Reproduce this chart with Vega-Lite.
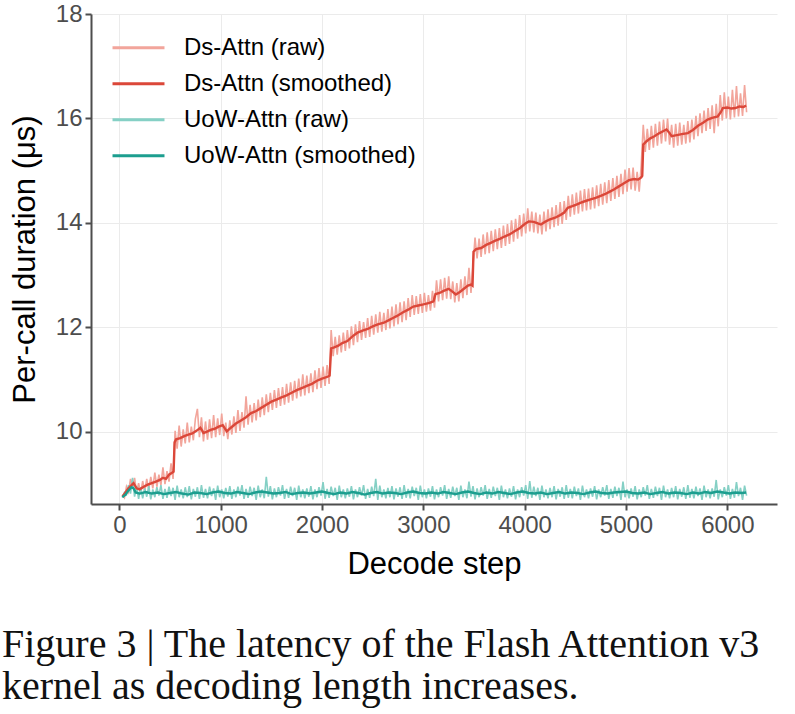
{
  "$schema": "https://vega.github.io/schema/vega-lite/v6.json",
  "width": 686,
  "height": 490,
  "autosize": {"type": "none"},
  "padding": {"left": 91, "top": 14, "right": 18, "bottom": 210},
  "background": "white",
  "title": {
    "text": ["Figure 3 | The latency of the Flash Attention v3", "kernel as decoding length increases."],
    "orient": "bottom",
    "anchor": "start",
    "frame": "group",
    "dx": -89,
    "offset": 46,
    "font": "Liberation Serif",
    "fontSize": 40,
    "fontWeight": "normal",
    "color": "#111111",
    "lineHeight": 42
  },
  "datasets": {
    "ds_raw": [
      {"x":30,"y":8.80},{"x":50,"y":8.74},{"x":70,"y":8.95},{"x":90,"y":8.85},{"x":110,"y":9.10},{"x":130,"y":8.92},{"x":150,"y":9.12},{"x":170,"y":8.84},{"x":190,"y":9.02},{"x":210,"y":8.82},
      {"x":230,"y":9.06},{"x":250,"y":8.86},{"x":270,"y":9.10},{"x":290,"y":8.90},{"x":310,"y":9.14},{"x":330,"y":8.92},{"x":350,"y":9.22},{"x":370,"y":8.95},{"x":390,"y":9.18},{"x":410,"y":8.98},
      {"x":430,"y":9.32},{"x":450,"y":9.00},{"x":470,"y":9.25},{"x":490,"y":9.05},{"x":510,"y":9.40},{"x":530,"y":9.10},{"x":550,"y":10.02},{"x":570,"y":9.68},{"x":590,"y":10.12},{"x":610,"y":9.72},
      {"x":630,"y":10.05},{"x":650,"y":9.78},{"x":670,"y":10.18},{"x":690,"y":9.80},{"x":710,"y":10.10},{"x":730,"y":9.84},{"x":750,"y":10.25},{"x":770,"y":10.44},{"x":790,"y":9.90},{"x":810,"y":10.28},
      {"x":830,"y":9.82},{"x":850,"y":10.20},{"x":870,"y":9.85},{"x":890,"y":10.24},{"x":910,"y":9.88},{"x":930,"y":10.32},{"x":950,"y":9.90},{"x":970,"y":10.26},{"x":990,"y":9.94},{"x":1010,"y":10.35},
      {"x":1030,"y":9.92},{"x":1050,"y":10.18},{"x":1070,"y":9.86},{"x":1090,"y":10.22},{"x":1110,"y":9.95},{"x":1130,"y":10.30},{"x":1150,"y":9.98},{"x":1170,"y":10.42},{"x":1190,"y":10.02},{"x":1210,"y":10.38},
      {"x":1230,"y":10.08},{"x":1250,"y":10.68},{"x":1270,"y":10.14},{"x":1290,"y":10.52},{"x":1310,"y":10.18},{"x":1330,"y":10.55},{"x":1350,"y":10.22},{"x":1370,"y":10.62},{"x":1390,"y":10.28},{"x":1410,"y":10.66},
      {"x":1430,"y":10.32},{"x":1450,"y":10.72},{"x":1470,"y":10.38},{"x":1490,"y":10.75},{"x":1510,"y":10.42},{"x":1530,"y":10.80},{"x":1550,"y":10.46},{"x":1570,"y":10.84},{"x":1590,"y":10.50},{"x":1610,"y":10.86},
      {"x":1630,"y":10.52},{"x":1650,"y":10.92},{"x":1670,"y":10.56},{"x":1690,"y":10.95},{"x":1710,"y":10.60},{"x":1730,"y":10.98},{"x":1750,"y":10.64},{"x":1770,"y":11.02},{"x":1790,"y":10.68},{"x":1810,"y":11.10},
      {"x":1830,"y":10.70},{"x":1850,"y":11.08},{"x":1870,"y":10.74},{"x":1890,"y":11.12},{"x":1910,"y":10.76},{"x":1930,"y":11.18},{"x":1950,"y":10.82},{"x":1970,"y":11.22},{"x":1990,"y":10.84},{"x":2010,"y":11.25},
      {"x":2030,"y":10.88},{"x":2050,"y":11.28},{"x":2070,"y":10.92},{"x":2090,"y":11.95},{"x":2110,"y":11.45},{"x":2130,"y":11.82},{"x":2150,"y":11.48},{"x":2170,"y":11.85},{"x":2190,"y":11.52},{"x":2210,"y":11.90},
      {"x":2230,"y":11.55},{"x":2250,"y":11.95},{"x":2270,"y":11.60},{"x":2290,"y":12.02},{"x":2310,"y":11.66},{"x":2330,"y":12.06},{"x":2350,"y":11.72},{"x":2370,"y":12.12},{"x":2390,"y":11.76},{"x":2410,"y":12.10},
      {"x":2430,"y":11.80},{"x":2450,"y":12.18},{"x":2470,"y":11.82},{"x":2490,"y":12.22},{"x":2510,"y":11.86},{"x":2530,"y":12.25},{"x":2550,"y":11.90},{"x":2570,"y":12.30},{"x":2590,"y":11.92},{"x":2610,"y":12.28},
      {"x":2630,"y":11.95},{"x":2650,"y":12.35},{"x":2670,"y":11.98},{"x":2690,"y":12.40},{"x":2710,"y":12.02},{"x":2730,"y":12.44},{"x":2750,"y":12.06},{"x":2770,"y":12.48},{"x":2790,"y":12.10},{"x":2810,"y":12.50},
      {"x":2830,"y":12.14},{"x":2850,"y":12.56},{"x":2870,"y":12.20},{"x":2890,"y":12.62},{"x":2910,"y":12.24},{"x":2930,"y":12.60},{"x":2950,"y":12.26},{"x":2970,"y":12.64},{"x":2990,"y":12.28},{"x":3010,"y":12.66},
      {"x":3030,"y":12.30},{"x":3050,"y":12.62},{"x":3070,"y":12.32},{"x":3090,"y":12.70},{"x":3110,"y":12.38},{"x":3130,"y":12.90},{"x":3150,"y":12.50},{"x":3170,"y":12.92},{"x":3190,"y":12.52},{"x":3210,"y":12.95},
      {"x":3230,"y":12.55},{"x":3250,"y":12.98},{"x":3270,"y":12.54},{"x":3290,"y":12.88},{"x":3310,"y":12.48},{"x":3330,"y":12.85},{"x":3350,"y":12.50},{"x":3370,"y":12.92},{"x":3390,"y":12.56},{"x":3410,"y":12.98},
      {"x":3430,"y":12.62},{"x":3450,"y":13.14},{"x":3470,"y":12.66},{"x":3490,"y":13.20},{"x":3510,"y":13.72},{"x":3530,"y":13.32},{"x":3550,"y":13.70},{"x":3570,"y":13.35},{"x":3590,"y":13.78},{"x":3610,"y":13.40},
      {"x":3630,"y":13.82},{"x":3650,"y":13.42},{"x":3670,"y":13.85},{"x":3690,"y":13.46},{"x":3710,"y":13.88},{"x":3730,"y":13.50},{"x":3750,"y":13.90},{"x":3770,"y":13.52},{"x":3790,"y":13.95},{"x":3810,"y":13.56},
      {"x":3830,"y":13.98},{"x":3850,"y":13.60},{"x":3870,"y":14.05},{"x":3890,"y":13.64},{"x":3910,"y":14.08},{"x":3930,"y":13.70},{"x":3950,"y":14.15},{"x":3970,"y":13.74},{"x":3990,"y":14.18},{"x":4010,"y":13.80},
      {"x":4030,"y":14.28},{"x":4050,"y":13.84},{"x":4070,"y":14.22},{"x":4090,"y":13.82},{"x":4110,"y":14.20},{"x":4130,"y":13.80},{"x":4150,"y":14.16},{"x":4170,"y":13.78},{"x":4190,"y":14.22},{"x":4210,"y":13.84},
      {"x":4230,"y":14.26},{"x":4250,"y":13.88},{"x":4270,"y":14.30},{"x":4290,"y":13.92},{"x":4310,"y":14.34},{"x":4330,"y":13.95},{"x":4350,"y":14.40},{"x":4370,"y":13.98},{"x":4390,"y":14.42},{"x":4410,"y":14.06},
      {"x":4430,"y":14.52},{"x":4450,"y":14.12},{"x":4470,"y":14.55},{"x":4490,"y":14.16},{"x":4510,"y":14.58},{"x":4530,"y":14.18},{"x":4550,"y":14.62},{"x":4570,"y":14.22},{"x":4590,"y":14.65},{"x":4610,"y":14.24},
      {"x":4630,"y":14.66},{"x":4650,"y":14.26},{"x":4670,"y":14.68},{"x":4690,"y":14.28},{"x":4710,"y":14.72},{"x":4730,"y":14.32},{"x":4750,"y":14.75},{"x":4770,"y":14.35},{"x":4790,"y":14.78},{"x":4810,"y":14.38},
      {"x":4830,"y":14.82},{"x":4850,"y":14.42},{"x":4870,"y":14.86},{"x":4890,"y":14.46},{"x":4910,"y":14.90},{"x":4930,"y":14.50},{"x":4950,"y":14.94},{"x":4970,"y":14.55},{"x":4990,"y":15.02},{"x":5010,"y":14.60},
      {"x":5030,"y":15.05},{"x":5050,"y":14.64},{"x":5070,"y":15.06},{"x":5090,"y":14.62},{"x":5110,"y":14.98},{"x":5130,"y":14.60},{"x":5150,"y":15.10},{"x":5170,"y":15.88},{"x":5190,"y":15.36},{"x":5210,"y":15.80},
      {"x":5230,"y":15.40},{"x":5250,"y":15.86},{"x":5270,"y":15.44},{"x":5290,"y":15.90},{"x":5310,"y":15.48},{"x":5330,"y":15.94},{"x":5350,"y":15.52},{"x":5370,"y":15.98},{"x":5390,"y":15.56},{"x":5410,"y":16.00},
      {"x":5430,"y":15.50},{"x":5450,"y":15.88},{"x":5470,"y":15.44},{"x":5490,"y":15.90},{"x":5510,"y":15.48},{"x":5530,"y":15.92},{"x":5550,"y":15.50},{"x":5570,"y":15.88},{"x":5590,"y":15.52},{"x":5610,"y":15.95},
      {"x":5630,"y":15.54},{"x":5650,"y":15.98},{"x":5670,"y":15.60},{"x":5690,"y":16.05},{"x":5710,"y":15.66},{"x":5730,"y":16.10},{"x":5750,"y":15.72},{"x":5770,"y":16.15},{"x":5790,"y":15.76},{"x":5810,"y":16.20},
      {"x":5830,"y":15.80},{"x":5850,"y":16.25},{"x":5870,"y":15.72},{"x":5890,"y":16.28},{"x":5910,"y":15.85},{"x":5930,"y":16.45},{"x":5950,"y":15.96},{"x":5970,"y":16.50},{"x":5990,"y":16.00},{"x":6010,"y":16.42},
      {"x":6030,"y":15.98},{"x":6050,"y":16.55},{"x":6070,"y":16.02},{"x":6090,"y":16.62},{"x":6110,"y":16.04},{"x":6130,"y":16.48},{"x":6150,"y":16.05},{"x":6170,"y":16.64},{"x":6190,"y":16.12}
    ],
    "uow_raw": [
      {"x":30,"y":8.74},{"x":50,"y":8.84},{"x":70,"y":8.80},{"x":90,"y":8.98},{"x":110,"y":8.82},{"x":130,"y":9.12},{"x":150,"y":8.76},{"x":170,"y":8.96},{"x":190,"y":8.72},{"x":210,"y":8.94},
      {"x":230,"y":8.73},{"x":250,"y":8.92},{"x":270,"y":8.76},{"x":290,"y":8.96},{"x":310,"y":8.71},{"x":330,"y":8.90},{"x":350,"y":8.75},{"x":370,"y":8.94},{"x":390,"y":8.78},{"x":410,"y":8.98},
      {"x":430,"y":8.72},{"x":450,"y":8.91},{"x":470,"y":8.74},{"x":490,"y":8.95},{"x":510,"y":8.77},{"x":530,"y":8.93},{"x":550,"y":8.70},{"x":570,"y":8.97},{"x":590,"y":8.75},{"x":610,"y":8.90},
      {"x":630,"y":8.73},{"x":650,"y":8.94},{"x":670,"y":8.75},{"x":690,"y":8.96},{"x":710,"y":8.71},{"x":730,"y":8.91},{"x":750,"y":8.76},{"x":770,"y":8.94},{"x":790,"y":8.72},{"x":810,"y":8.98},
      {"x":830,"y":8.74},{"x":850,"y":8.91},{"x":870,"y":8.73},{"x":890,"y":8.95},{"x":910,"y":8.77},{"x":930,"y":8.92},{"x":950,"y":8.70},{"x":970,"y":8.97},{"x":990,"y":8.75},{"x":1010,"y":8.90},
      {"x":1030,"y":8.73},{"x":1050,"y":8.93},{"x":1070,"y":8.76},{"x":1090,"y":8.96},{"x":1110,"y":8.72},{"x":1130,"y":8.90},{"x":1150,"y":8.75},{"x":1170,"y":8.95},{"x":1190,"y":8.78},{"x":1210,"y":8.98},
      {"x":1230,"y":8.72},{"x":1250,"y":8.91},{"x":1270,"y":8.74},{"x":1290,"y":8.95},{"x":1310,"y":8.77},{"x":1330,"y":8.93},{"x":1350,"y":8.70},{"x":1370,"y":8.97},{"x":1390,"y":8.75},{"x":1410,"y":8.90},
      {"x":1430,"y":8.73},{"x":1450,"y":9.14},{"x":1470,"y":8.76},{"x":1490,"y":8.96},{"x":1510,"y":8.71},{"x":1530,"y":8.92},{"x":1550,"y":8.75},{"x":1570,"y":8.94},{"x":1590,"y":8.78},{"x":1610,"y":8.98},
      {"x":1630,"y":8.72},{"x":1650,"y":8.91},{"x":1670,"y":8.74},{"x":1690,"y":8.95},{"x":1710,"y":8.77},{"x":1730,"y":8.93},{"x":1750,"y":8.70},{"x":1770,"y":8.97},{"x":1790,"y":8.75},{"x":1810,"y":8.90},
      {"x":1830,"y":8.73},{"x":1850,"y":8.92},{"x":1870,"y":8.76},{"x":1890,"y":8.96},{"x":1910,"y":8.71},{"x":1930,"y":8.90},{"x":1950,"y":8.75},{"x":1970,"y":8.94},{"x":1990,"y":8.78},{"x":2010,"y":9.04},
      {"x":2030,"y":8.72},{"x":2050,"y":8.91},{"x":2070,"y":8.74},{"x":2090,"y":8.95},{"x":2110,"y":8.77},{"x":2130,"y":8.93},{"x":2150,"y":8.70},{"x":2170,"y":8.97},{"x":2190,"y":8.75},{"x":2210,"y":8.90},
      {"x":2230,"y":8.73},{"x":2250,"y":8.92},{"x":2270,"y":8.76},{"x":2290,"y":8.96},{"x":2310,"y":8.71},{"x":2330,"y":8.90},{"x":2350,"y":8.75},{"x":2370,"y":8.94},{"x":2390,"y":8.78},{"x":2410,"y":8.98},
      {"x":2430,"y":8.72},{"x":2450,"y":8.91},{"x":2470,"y":8.74},{"x":2490,"y":8.95},{"x":2510,"y":8.77},{"x":2530,"y":9.10},{"x":2550,"y":8.70},{"x":2570,"y":8.97},{"x":2590,"y":8.75},{"x":2610,"y":8.90},
      {"x":2630,"y":8.73},{"x":2650,"y":8.93},{"x":2670,"y":8.75},{"x":2690,"y":8.96},{"x":2710,"y":8.71},{"x":2730,"y":8.92},{"x":2750,"y":8.76},{"x":2770,"y":8.94},{"x":2790,"y":8.72},{"x":2810,"y":8.98},
      {"x":2830,"y":8.74},{"x":2850,"y":8.91},{"x":2870,"y":8.73},{"x":2890,"y":8.95},{"x":2910,"y":8.77},{"x":2930,"y":8.93},{"x":2950,"y":8.70},{"x":2970,"y":8.97},{"x":2990,"y":8.75},{"x":3010,"y":8.90},
      {"x":3030,"y":8.73},{"x":3050,"y":8.92},{"x":3070,"y":8.76},{"x":3090,"y":8.96},{"x":3110,"y":8.71},{"x":3130,"y":8.90},{"x":3150,"y":8.75},{"x":3170,"y":8.94},{"x":3190,"y":8.78},{"x":3210,"y":8.98},
      {"x":3230,"y":8.72},{"x":3250,"y":8.91},{"x":3270,"y":8.74},{"x":3290,"y":8.95},{"x":3310,"y":8.77},{"x":3330,"y":8.93},{"x":3350,"y":8.70},{"x":3370,"y":8.97},{"x":3390,"y":8.75},{"x":3410,"y":8.90},
      {"x":3430,"y":8.73},{"x":3450,"y":9.05},{"x":3470,"y":8.76},{"x":3490,"y":8.96},{"x":3510,"y":8.71},{"x":3530,"y":8.92},{"x":3550,"y":8.75},{"x":3570,"y":8.94},{"x":3590,"y":8.78},{"x":3610,"y":8.98},
      {"x":3630,"y":8.72},{"x":3650,"y":8.91},{"x":3670,"y":8.74},{"x":3690,"y":8.95},{"x":3710,"y":8.77},{"x":3730,"y":8.93},{"x":3750,"y":8.70},{"x":3770,"y":8.97},{"x":3790,"y":8.75},{"x":3810,"y":8.90},
      {"x":3830,"y":8.73},{"x":3850,"y":8.92},{"x":3870,"y":8.76},{"x":3890,"y":8.96},{"x":3910,"y":8.71},{"x":3930,"y":8.90},{"x":3950,"y":8.75},{"x":3970,"y":8.94},{"x":3990,"y":8.78},{"x":4010,"y":8.98},
      {"x":4030,"y":8.72},{"x":4050,"y":9.06},{"x":4070,"y":8.74},{"x":4090,"y":8.95},{"x":4110,"y":8.77},{"x":4130,"y":8.93},{"x":4150,"y":8.70},{"x":4170,"y":8.97},{"x":4190,"y":8.75},{"x":4210,"y":8.90},
      {"x":4230,"y":8.73},{"x":4250,"y":8.93},{"x":4270,"y":8.75},{"x":4290,"y":8.96},{"x":4310,"y":8.71},{"x":4330,"y":8.91},{"x":4350,"y":8.76},{"x":4370,"y":8.94},{"x":4390,"y":8.72},{"x":4410,"y":8.98},
      {"x":4430,"y":8.74},{"x":4450,"y":8.91},{"x":4470,"y":8.73},{"x":4490,"y":8.95},{"x":4510,"y":8.77},{"x":4530,"y":8.92},{"x":4550,"y":8.70},{"x":4570,"y":8.97},{"x":4590,"y":8.75},{"x":4610,"y":8.90},
      {"x":4630,"y":8.73},{"x":4650,"y":8.92},{"x":4670,"y":8.76},{"x":4690,"y":8.96},{"x":4710,"y":8.71},{"x":4730,"y":8.90},{"x":4750,"y":8.75},{"x":4770,"y":8.94},{"x":4790,"y":8.78},{"x":4810,"y":8.98},
      {"x":4830,"y":8.72},{"x":4850,"y":8.91},{"x":4870,"y":8.74},{"x":4890,"y":8.95},{"x":4910,"y":8.77},{"x":4930,"y":8.93},{"x":4950,"y":8.70},{"x":4970,"y":9.05},{"x":4990,"y":8.75},{"x":5010,"y":8.90},
      {"x":5030,"y":8.73},{"x":5050,"y":8.92},{"x":5070,"y":8.76},{"x":5090,"y":8.96},{"x":5110,"y":8.71},{"x":5130,"y":8.90},{"x":5150,"y":8.75},{"x":5170,"y":8.94},{"x":5190,"y":8.78},{"x":5210,"y":8.98},
      {"x":5230,"y":8.72},{"x":5250,"y":8.91},{"x":5270,"y":8.74},{"x":5290,"y":8.95},{"x":5310,"y":8.77},{"x":5330,"y":8.93},{"x":5350,"y":8.70},{"x":5370,"y":8.97},{"x":5390,"y":8.75},{"x":5410,"y":8.90},
      {"x":5430,"y":8.73},{"x":5450,"y":8.93},{"x":5470,"y":8.75},{"x":5490,"y":8.96},{"x":5510,"y":8.71},{"x":5530,"y":8.91},{"x":5550,"y":8.76},{"x":5570,"y":8.94},{"x":5590,"y":8.72},{"x":5610,"y":8.98},
      {"x":5630,"y":8.74},{"x":5650,"y":8.91},{"x":5670,"y":8.73},{"x":5690,"y":8.95},{"x":5710,"y":8.77},{"x":5730,"y":8.92},{"x":5750,"y":8.70},{"x":5770,"y":8.97},{"x":5790,"y":8.75},{"x":5810,"y":8.90},
      {"x":5830,"y":8.73},{"x":5850,"y":8.92},{"x":5870,"y":8.76},{"x":5890,"y":9.08},{"x":5910,"y":8.71},{"x":5930,"y":8.90},{"x":5950,"y":8.75},{"x":5970,"y":8.94},{"x":5990,"y":8.78},{"x":6010,"y":8.98},
      {"x":6030,"y":8.72},{"x":6050,"y":8.91},{"x":6070,"y":8.74},{"x":6090,"y":9.04},{"x":6110,"y":8.77},{"x":6130,"y":8.93},{"x":6150,"y":8.70},{"x":6170,"y":8.97},{"x":6190,"y":8.78}
    ],
    "ds_smooth": [
      {"x":30,"y":8.76},{"x":60,"y":8.84},{"x":90,"y":8.92},{"x":120,"y":8.98},{"x":140,"y":9.02},{"x":170,"y":8.92},{"x":200,"y":8.90},{"x":240,"y":8.95},{"x":280,"y":8.99},{"x":320,"y":9.02},
      {"x":360,"y":9.05},{"x":400,"y":9.08},{"x":430,"y":9.12},{"x":460,"y":9.10},{"x":490,"y":9.18},{"x":520,"y":9.22},{"x":535,"y":9.24},{"x":545,"y":9.80},{"x":560,"y":9.86},{"x":600,"y":9.88},
      {"x":640,"y":9.92},{"x":680,"y":9.95},{"x":720,"y":9.97},{"x":760,"y":10.02},{"x":800,"y":10.08},{"x":830,"y":9.98},{"x":860,"y":10.00},{"x":900,"y":10.04},{"x":940,"y":10.06},{"x":980,"y":10.10},
      {"x":1020,"y":10.13},{"x":1060,"y":10.01},{"x":1100,"y":10.08},{"x":1150,"y":10.16},{"x":1200,"y":10.22},{"x":1250,"y":10.28},{"x":1300,"y":10.36},{"x":1350,"y":10.40},{"x":1400,"y":10.46},{"x":1450,"y":10.52},
      {"x":1500,"y":10.58},{"x":1550,"y":10.62},{"x":1600,"y":10.66},{"x":1650,"y":10.70},{"x":1700,"y":10.75},{"x":1750,"y":10.80},{"x":1800,"y":10.84},{"x":1850,"y":10.88},{"x":1900,"y":10.92},{"x":1950,"y":10.98},
      {"x":2000,"y":11.02},{"x":2060,"y":11.06},{"x":2075,"y":11.08},{"x":2090,"y":11.60},{"x":2120,"y":11.62},{"x":2160,"y":11.65},{"x":2200,"y":11.70},{"x":2250,"y":11.74},{"x":2300,"y":11.83},{"x":2350,"y":11.90},
      {"x":2400,"y":11.94},{"x":2450,"y":11.97},{"x":2500,"y":12.02},{"x":2550,"y":12.06},{"x":2610,"y":12.09},{"x":2660,"y":12.14},{"x":2700,"y":12.18},{"x":2740,"y":12.22},{"x":2800,"y":12.29},{"x":2850,"y":12.34},
      {"x":2900,"y":12.40},{"x":2950,"y":12.42},{"x":3000,"y":12.44},{"x":3060,"y":12.47},{"x":3100,"y":12.50},{"x":3120,"y":12.64},{"x":3160,"y":12.66},{"x":3200,"y":12.70},{"x":3250,"y":12.74},{"x":3290,"y":12.68},
      {"x":3320,"y":12.63},{"x":3360,"y":12.68},{"x":3400,"y":12.74},{"x":3440,"y":12.80},{"x":3470,"y":12.82},{"x":3485,"y":12.80},{"x":3495,"y":13.45},{"x":3520,"y":13.50},{"x":3570,"y":13.52},{"x":3620,"y":13.58},
      {"x":3665,"y":13.62},{"x":3710,"y":13.66},{"x":3760,"y":13.70},{"x":3800,"y":13.74},{"x":3850,"y":13.78},{"x":3900,"y":13.84},{"x":3950,"y":13.90},{"x":4000,"y":13.98},{"x":4040,"y":14.03},{"x":4090,"y":14.02},
      {"x":4130,"y":13.99},{"x":4160,"y":13.97},{"x":4200,"y":14.02},{"x":4250,"y":14.07},{"x":4300,"y":14.10},{"x":4350,"y":14.15},{"x":4390,"y":14.20},{"x":4425,"y":14.29},{"x":4470,"y":14.32},{"x":4510,"y":14.35},
      {"x":4555,"y":14.39},{"x":4600,"y":14.42},{"x":4650,"y":14.45},{"x":4700,"y":14.48},{"x":4750,"y":14.52},{"x":4790,"y":14.55},{"x":4840,"y":14.60},{"x":4880,"y":14.64},{"x":4930,"y":14.70},{"x":4980,"y":14.76},
      {"x":5030,"y":14.82},{"x":5080,"y":14.84},{"x":5120,"y":14.83},{"x":5150,"y":14.87},{"x":5160,"y":14.90},{"x":5170,"y":15.50},{"x":5200,"y":15.56},{"x":5240,"y":15.62},{"x":5280,"y":15.66},{"x":5330,"y":15.72},
      {"x":5370,"y":15.76},{"x":5400,"y":15.79},{"x":5430,"y":15.72},{"x":5450,"y":15.66},{"x":5500,"y":15.68},{"x":5550,"y":15.70},{"x":5610,"y":15.72},{"x":5660,"y":15.78},{"x":5710,"y":15.86},{"x":5760,"y":15.92},
      {"x":5805,"y":15.98},{"x":5850,"y":16.01},{"x":5905,"y":16.04},{"x":5935,"y":16.12},{"x":5955,"y":16.20},{"x":6000,"y":16.21},{"x":6040,"y":16.19},{"x":6080,"y":16.20},{"x":6120,"y":16.23},{"x":6160,"y":16.22},
      {"x":6185,"y":16.25}
    ],
    "uow_smooth": [
      {"x":30,"y":8.75},{"x":60,"y":8.80},{"x":90,"y":8.88},{"x":120,"y":8.94},{"x":140,"y":8.92},{"x":160,"y":8.84},{"x":200,"y":8.82},{"x":260,"y":8.85},{"x":320,"y":8.82},{"x":380,"y":8.84},
      {"x":440,"y":8.81},{"x":500,"y":8.83},{"x":560,"y":8.85},{"x":620,"y":8.82},{"x":680,"y":8.80},{"x":740,"y":8.84},{"x":800,"y":8.83},{"x":860,"y":8.81},{"x":920,"y":8.84},{"x":980,"y":8.86},
      {"x":1040,"y":8.83},{"x":1100,"y":8.82},{"x":1160,"y":8.85},{"x":1220,"y":8.83},{"x":1280,"y":8.81},{"x":1340,"y":8.84},{"x":1400,"y":8.86},{"x":1460,"y":8.84},{"x":1520,"y":8.82},{"x":1580,"y":8.83},
      {"x":1640,"y":8.85},{"x":1700,"y":8.81},{"x":1760,"y":8.83},{"x":1820,"y":8.84},{"x":1880,"y":8.82},{"x":1940,"y":8.84},{"x":2000,"y":8.86},{"x":2060,"y":8.83},{"x":2120,"y":8.81},{"x":2180,"y":8.84},
      {"x":2240,"y":8.82},{"x":2300,"y":8.85},{"x":2360,"y":8.83},{"x":2420,"y":8.80},{"x":2480,"y":8.83},{"x":2540,"y":8.85},{"x":2600,"y":8.82},{"x":2660,"y":8.84},{"x":2720,"y":8.83},{"x":2780,"y":8.81},
      {"x":2840,"y":8.84},{"x":2900,"y":8.86},{"x":2960,"y":8.83},{"x":3020,"y":8.82},{"x":3080,"y":8.84},{"x":3140,"y":8.82},{"x":3200,"y":8.85},{"x":3260,"y":8.83},{"x":3320,"y":8.81},{"x":3380,"y":8.84},
      {"x":3440,"y":8.86},{"x":3500,"y":8.83},{"x":3560,"y":8.81},{"x":3620,"y":8.84},{"x":3680,"y":8.82},{"x":3740,"y":8.85},{"x":3800,"y":8.83},{"x":3860,"y":8.81},{"x":3920,"y":8.84},{"x":3980,"y":8.86},
      {"x":4040,"y":8.83},{"x":4100,"y":8.82},{"x":4160,"y":8.84},{"x":4220,"y":8.81},{"x":4280,"y":8.83},{"x":4340,"y":8.85},{"x":4400,"y":8.82},{"x":4460,"y":8.84},{"x":4520,"y":8.83},{"x":4580,"y":8.81},
      {"x":4640,"y":8.84},{"x":4700,"y":8.86},{"x":4760,"y":8.83},{"x":4820,"y":8.82},{"x":4880,"y":8.84},{"x":4940,"y":8.85},{"x":5000,"y":8.86},{"x":5060,"y":8.83},{"x":5120,"y":8.82},{"x":5180,"y":8.84},
      {"x":5240,"y":8.81},{"x":5300,"y":8.83},{"x":5360,"y":8.85},{"x":5420,"y":8.82},{"x":5480,"y":8.84},{"x":5540,"y":8.83},{"x":5600,"y":8.81},{"x":5660,"y":8.84},{"x":5720,"y":8.82},{"x":5780,"y":8.85},
      {"x":5840,"y":8.83},{"x":5900,"y":8.86},{"x":5960,"y":8.84},{"x":6020,"y":8.82},{"x":6080,"y":8.84},{"x":6140,"y":8.83},{"x":6185,"y":8.84}
    ]
  },
  "encoding": {
    "x": {
      "field": "x",
      "type": "quantitative",
      "title": "Decode step",
      "scale": {"domain": [-280, 6490], "nice": false, "zero": false},
      "axis": {"values": [0, 1000, 2000, 3000, 4000, 5000, 6000], "format": "d", "titlePadding": 12}
    },
    "y": {
      "field": "y",
      "type": "quantitative",
      "title": "Per-call duration (μs)",
      "scale": {"domain": [8.62, 18], "nice": false, "zero": false},
      "axis": {"values": [10, 12, 14, 16, 18], "format": "d", "titlePadding": 14}
    }
  },
  "layer": [
    {
      "data": {"name": "ds_raw"},
      "mark": {"type": "line", "strokeWidth": 1.6, "clip": true},
      "encoding": {
        "color": {
          "datum": "Ds-Attn (raw)",
          "scale": {
            "domain": ["Ds-Attn (raw)", "Ds-Attn (smoothed)", "UoW-Attn (raw)", "UoW-Attn (smoothed)"],
            "range": ["#F2A59B", "#DB4739", "#85D0C5", "#1C9E8F"]
          },
          "legend": {
            "title": null,
            "orient": "none",
            "legendX": 20,
            "legendY": 16,
            "symbolType": "stroke",
            "symbolSize": 2700,
            "symbolStrokeWidth": 3,
            "labelFontSize": 24,
            "labelFont": "Liberation Sans",
            "labelColor": "#000000",
            "labelOffset": 18,
            "labelLimit": 0,
            "clipHeight": 35.7,
            "rowPadding": 0
          }
        }
      }
    },
    {
      "data": {"name": "uow_raw"},
      "mark": {"type": "line", "strokeWidth": 1.6, "clip": true},
      "encoding": {"color": {"datum": "UoW-Attn (raw)"}}
    },
    {
      "data": {"name": "ds_smooth"},
      "mark": {"type": "line", "strokeWidth": 2.4, "clip": true},
      "encoding": {"color": {"datum": "Ds-Attn (smoothed)"}}
    },
    {
      "data": {"name": "uow_smooth"},
      "mark": {"type": "line", "strokeWidth": 2.4, "clip": true},
      "encoding": {"color": {"datum": "UoW-Attn (smoothed)"}}
    }
  ],
  "config": {
    "view": {"stroke": null},
    "font": "Liberation Sans",
    "axis": {
      "labelFont": "Liberation Sans",
      "labelFontSize": 24,
      "labelColor": "#4D4D4D",
      "titleFont": "Liberation Sans",
      "titleFontSize": 31,
      "titleFontWeight": "normal",
      "titleColor": "#000000",
      "gridColor": "#EBEBEB",
      "gridWidth": 1,
      "domainColor": "#4D4D4D",
      "domainWidth": 2,
      "tickColor": "#4D4D4D",
      "tickWidth": 2,
      "tickSize": 6,
      "labelPadding": 3
    }
  }
}
